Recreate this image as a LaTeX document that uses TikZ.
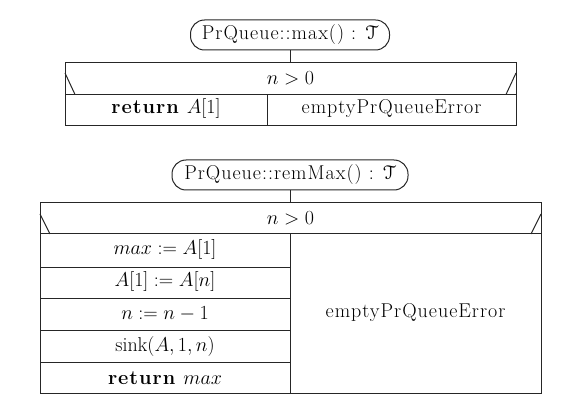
\documentclass[tikz,border=0pt]{standalone}
\usepackage{fix-cm}
\usepackage[mathcal]{eucal}
\usepackage{fontspec}
\setmainfont{Latin Modern Roman}[LetterSpace=5]
\begin{document}
\begin{tikzpicture}[x=1pt,y=-1pt,
  every node/.style={font=\fontsize{20}{24}\selectfont},
  lin/.style={draw=black!85, line width=1pt},
  header/.style={draw=black!85, line width=1pt, rounded corners=14pt, minimum height=30pt, inner sep=0pt},
  cell/.style={inner sep=0pt}]
\useasboundingbox (0,0) rectangle (573,406);
% ---------- top diagram ----------
\node[header, minimum width=199pt] (h1) at (290,35) {PrQueue::max() : $\mathcal{T}$};
\coordinate (t1) at (290,63);
\draw[lin] (h1.south) -- (t1);
\draw[lin] (65,63) rectangle (516,126);
\draw[lin] (65,94.5) -- (516,94.5);
\draw[lin] (267,94.5) -- (267,126);
\draw[lin] (65,73) -- (75,94.5);
\draw[lin] (516,73) -- (506,94.5);
\node[cell] (c1) at (290.5,78) {$n>0$};
\node[cell] (a1) at (166,108.5) {\textbf{return} $A[1]$};
\node[cell] (e1) at (391.5,108.5) {emptyPrQueueError};
% ---------- bottom diagram ----------
\node[header, minimum width=236pt] (h2) at (290,175) {PrQueue::remMax() : $\mathcal{T}$};
\coordinate (t2) at (290,203);
\draw[lin] (h2.south) -- (t2);
\draw[lin] (40,203) rectangle (541,393);
\draw[lin] (40,234) -- (541,234);
\draw[lin] (290,234) -- (290,393);
\draw[lin] (40,214) -- (50,234);
\draw[lin] (541,214) -- (531,234);
\foreach \yy in {267,298,330,362} \draw[lin] (40,\yy) -- (290,\yy);
\node[cell] (c2) at (290.5,218) {$n>0$};
\node[cell] (s1) at (165,250) {$max := A[1]$};
\node[cell] (s2) at (165,282) {$A[1] := A[n]$};
\node[cell] (s3) at (165,314) {$n := n-1$};
\node[cell] (s4) at (165,346) {$\mathrm{sink}(A,1,n)$};
\node[cell] (s5) at (165,378) {\textbf{return} $max$};
\node[cell] (e2) at (415.5,313) {emptyPrQueueError};
\end{tikzpicture}
\end{document}
